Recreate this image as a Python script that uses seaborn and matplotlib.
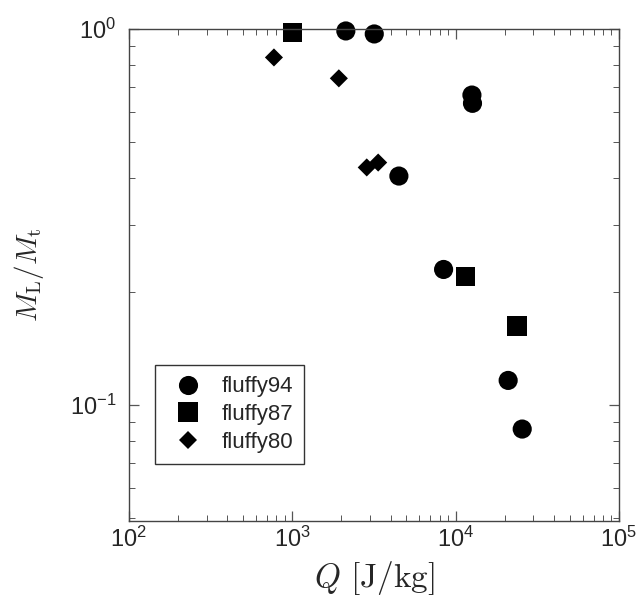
import matplotlib
matplotlib.use("Agg")
import matplotlib.pyplot as plt
import numpy as np
import pandas as pd
import seaborn as sns

# values (log-log)
q_94 = [2130, 3180, 12600, 12700, 4500, 8450, 21000, 25600]
m_94 = [0.988, 0.970, 0.667, 0.634, 0.406, 0.229, 0.116, 0.0861]
q_87 = [1005, 11450, 23800]
m_87 = [0.980, 0.219, 0.162]
q_80 = [773, 1930, 2860, 3360]
m_80 = [0.840, 0.739, 0.428, 0.441]

order = ["fluffy94", "fluffy87", "fluffy80"]
markers = {"fluffy94": "o", "fluffy87": "s", "fluffy80": "D"}
sizes = {"fluffy94": 190, "fluffy87": 190, "fluffy80": 85}

df = pd.DataFrame({
    "Q": q_94 + q_87 + q_80,
    "ratio": m_94 + m_87 + m_80,
    "run": ["fluffy94"] * len(q_94) + ["fluffy87"] * len(q_87) + ["fluffy80"] * len(q_80),
})

sns.set_style("ticks")
plt.rcParams["font.family"] = ["Liberation Sans", "DejaVu Sans"]
plt.rcParams["axes.unicode_minus"] = False

fig = plt.figure(figsize=(6.38, 5.99), dpi=100)
ax = fig.add_axes([0.202, 0.1302, 0.768, 0.8214])

sns.scatterplot(
    data=df, x="Q", y="ratio", style="run", style_order=order, markers=markers,
    size="run", size_order=order, sizes=sizes,
    color="black", edgecolor="black", linewidth=0, ax=ax, clip_on=False,
)
ax.set_xscale("log")
ax.set_yscale("log")
ax.set_xlim(1e2, 1e5)
ax.set_ylim(0.049, 1.0)

ax.set_xlabel(r"$Q\ \mathrm{[J/kg]}$", math_fontfamily="cm", fontsize=24, labelpad=5)
ax.set_ylabel(r"$M_\mathrm{L}/M_\mathrm{t}$", math_fontfamily="cm", fontsize=21, labelpad=17)

for s in ax.spines.values():
    s.set_color("#444444")
    s.set_linewidth(1.0)
ax.tick_params(which="both", direction="in", top=True, right=True, color="#555555")
ax.tick_params(axis="x", which="major", length=7, width=0.9, labelsize=17, pad=4)
ax.tick_params(axis="y", which="major", length=7, width=0.9, labelsize=17, pad=9)
ax.tick_params(which="minor", length=4, width=0.7)

handles, labels = ax.get_legend_handles_labels()
pairs = [(h, l) for h, l in zip(handles, labels) if l in order]
leg = ax.legend(
    [p[0] for p in pairs], [p[1] for p in pairs],
    loc="lower left", bbox_to_anchor=(0.053, 0.116), borderaxespad=0,
    fontsize=16, frameon=True, fancybox=False, edgecolor="black",
    handletextpad=0.5, labelspacing=0.3, borderpad=0.5, markerscale=1.0,
)
leg.get_frame().set_linewidth(1.0)

fig.savefig("out.png", dpi=100)
